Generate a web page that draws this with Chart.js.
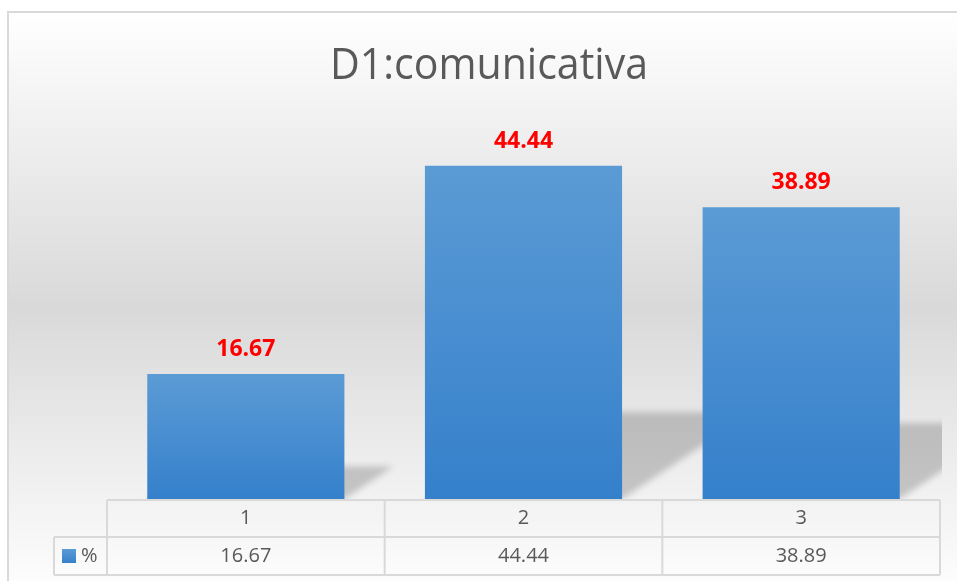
<!DOCTYPE html>
<html>
<head>
<meta charset="utf-8">
<script src="https://cdn.jsdelivr.net/npm/chart.js@4"></script>
<style>
  html, body { margin: 0; padding: 0; background: #ffffff; }
  canvas { display: block; }
</style>
</head>
<body>
<canvas id="chart" width="957" height="581"></canvas>
<script>
// ─── DATA ──────────────────────────────────────────────────
const categories = ["1", "2", "3"];
const seriesName = "%";
const values = [16.67, 44.44, 38.89];
const chartTitle = "D1:comunicativa";

const TEXT_GREY = "#595959";
const GRID_GREY = "#d9d9d9";

// ─── PLUGINS ───────────────────────────────────────────────
const backgroundPlugin = {
    id: "background",
    beforeDraw(chart) {
        const ctx = chart.ctx;
        ctx.save();
        ctx.fillStyle = "#ffffff";
        ctx.fillRect(0, 0, chart.width, chart.height);
        const g = ctx.createLinearGradient(0, 12, 0, 600);
        g.addColorStop(0, "#ffffff");
        g.addColorStop(0.5, "#d9d9d9");
        g.addColorStop(1, "#ffffff");
        ctx.fillStyle = g;
        ctx.fillRect(8, 12, chart.width, chart.height);
        ctx.strokeStyle = GRID_GREY;
        ctx.lineWidth = 2;
        ctx.beginPath();
        ctx.moveTo(8, chart.height + 5);
        ctx.lineTo(8, 12);
        ctx.lineTo(chart.width + 5, 12);
        ctx.stroke();

        // title
        ctx.fillStyle = TEXT_GREY;
        ctx.font = "43px 'Open Sans'";
        ctx.textBaseline = "alphabetic";
        ctx.textAlign = "center";
        const w = ctx.measureText(chartTitle).width;
        const sx = Math.min(1, 318 / w);
        ctx.translate(489, 79);
        ctx.scale(sx, 1);
        ctx.fillText(chartTitle, 0, 0);
        ctx.restore();
    }
};

const shadowPlugin = {
    id: "barShadow",
    beforeDatasetsDraw(chart) {
        const ctx = chart.ctx;
        const area = chart.chartArea;
        const meta = chart.getDatasetMeta(0);
        ctx.save();
        ctx.beginPath();
        ctx.rect(area.left, area.top, area.right - area.left + 2, area.bottom - area.top);
        ctx.clip();
        ctx.filter = "blur(3px)";
        meta.data.forEach(bar => {
            const left = bar.x - bar.width / 2;
            const right = bar.x + bar.width / 2;
            const h = bar.base - bar.y;
            const hs = h * 0.26;
            const skew = hs * 1.5;
            ctx.fillStyle = "rgba(0, 0, 0, 0.19)";
            ctx.beginPath();
            ctx.moveTo(left, bar.base);
            ctx.lineTo(right, bar.base);
            ctx.lineTo(right + skew, bar.base - hs);
            ctx.lineTo(left + skew, bar.base - hs);
            ctx.closePath();
            ctx.fill();
        });
        ctx.restore();
    }
};

const labelPlugin = {
    id: "valueLabels",
    afterDatasetsDraw(chart) {
        const ctx = chart.ctx;
        const meta = chart.getDatasetMeta(0);
        ctx.save();
        ctx.fillStyle = "#ff0000";
        ctx.font = "bold 23px 'Open Sans'";
        ctx.textAlign = "center";
        ctx.textBaseline = "alphabetic";
        meta.data.forEach((bar, i) => {
            ctx.fillText(values[i].toFixed(2), bar.x, bar.y - 18);
        });
        ctx.restore();
    }
};

const tablePlugin = {
    id: "dataTable",
    afterDraw(chart) {
        const ctx = chart.ctx;
        const area = chart.chartArea;
        const xScale = chart.scales.x;
        const colW = (area.right - area.left) / categories.length;
        const top = 500, mid = 537, bottom = 575, legendLeft = 54;

        ctx.save();
        ctx.strokeStyle = GRID_GREY;
        ctx.lineWidth = 2;
        ctx.beginPath();
        ctx.moveTo(area.left, top);
        ctx.lineTo(area.right, top);
        ctx.moveTo(legendLeft, mid);
        ctx.lineTo(area.right, mid);
        ctx.moveTo(legendLeft, bottom);
        ctx.lineTo(area.right, bottom);
        ctx.moveTo(legendLeft, mid);
        ctx.lineTo(legendLeft, bottom);
        for (let i = 0; i <= categories.length; i++) {
            const x = area.left + i * colW;
            ctx.moveTo(x, top);
            ctx.lineTo(x, bottom);
        }
        ctx.stroke();

        ctx.fillStyle = TEXT_GREY;
        ctx.font = "20px 'Open Sans'";
        ctx.textAlign = "center";
        ctx.textBaseline = "middle";
        categories.forEach((c, i) => {
            const x = xScale.getPixelForValue(i);
            ctx.fillText(c, x, (top + mid) / 2);
            ctx.fillText(values[i].toFixed(2), x, (mid + bottom) / 2);
        });

        // legend key
        const g = ctx.createLinearGradient(0, 549, 0, 563);
        g.addColorStop(0, "#5b9bd5");
        g.addColorStop(1, "#3580cb");
        ctx.fillStyle = g;
        ctx.fillRect(62, 549, 14, 14);
        ctx.fillStyle = TEXT_GREY;
        ctx.textAlign = "left";
        ctx.fillText(seriesName, 81, (mid + bottom) / 2);
        ctx.restore();
    }
};

// ─── CHART ─────────────────────────────────────────────────
function barGradient(context) {
    const chart = context.chart;
    if (!chart.chartArea || context.dataIndex === undefined) return "#4a90d0";
    const y = chart.scales.y;
    const top = y.getPixelForValue(values[context.dataIndex]);
    const bottom = y.getPixelForValue(0);
    const g = chart.ctx.createLinearGradient(0, top, 0, bottom);
    g.addColorStop(0, "#5b9bd5");
    g.addColorStop(1, "#3580cb");
    return g;
}

new Chart(document.getElementById("chart"), {
    type: "bar",
    data: {
        labels: categories,
        datasets: [{
            label: seriesName,
            data: values,
            backgroundColor: barGradient,
            borderWidth: 0,
            categoryPercentage: 1,
            barPercentage: 0.71,
        }],
    },
    options: {
        responsive: false,
        animation: false,
        layout: { padding: { left: 107, right: 17, top: 124, bottom: 82 } },
        plugins: {
            legend: { display: false },
            title: { display: false },
            tooltip: { enabled: false },
        },
        scales: {
            x: { display: false },
            y: { display: false, min: 0, max: 50 },
        },
    },
    plugins: [backgroundPlugin, shadowPlugin, labelPlugin, tablePlugin],
});
</script>
</body>
</html>
